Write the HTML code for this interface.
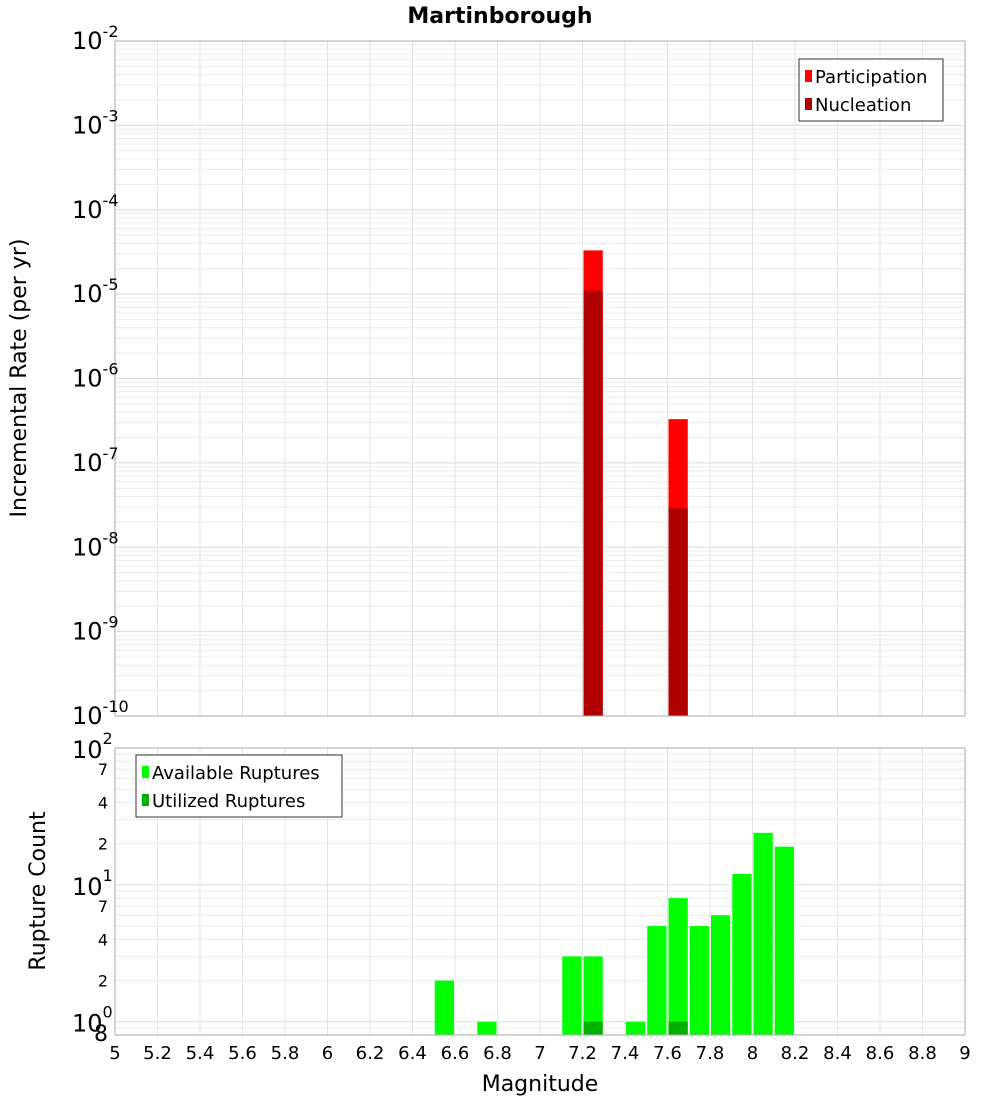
<!DOCTYPE html>
<html><head><meta charset="utf-8"><style>
body{margin:0;background:#fff;}
svg{display:block;font-family:"DejaVu Sans","Liberation Sans",sans-serif;}
</style></head><body>
<svg id="c" width="1000" height="1100" viewBox="0 0 1000 1100"></svg>
<script>
const xTicks=[5,5.2,5.4,5.6,5.8,6,6.2,6.4,6.6,6.8,7,7.2,7.4,7.6,7.8,8,8.2,8.4,8.6,8.8,9];
const rateMags=[7.25,7.65];
const participation=[3.3e-5,3.3e-7];
const nucleation=[1.1e-5,2.9e-8];
const countMags=[6.55,6.75,7.15,7.25,7.45,7.55,7.65,7.75,7.85,7.95,8.05,8.15];
const available=[2,1,3,3,1,5,8,5,6,12,24,19];
const utilMags=[7.25,7.65];
const utilized=[1,1];

const svg=document.getElementById('c');
const NS='http://www.w3.org/2000/svg';
function mk(tag,attrs,parent){const e=document.createElementNS(NS,tag);for(const k in attrs)e.setAttribute(k,attrs[k]);(parent||svg).appendChild(e);return e;}
const X0=115,X1=965;
const x=v=>X0+(v-5)/(9-5)*(X1-X0);
const T0=41,T1=716;
const yTop=v=>T0+(-2-Math.log10(v))/8*(T1-T0);
const B0=748,B1=1035;
const yBot=v=>B0+(2-Math.log10(v))/(2-Math.log10(0.8))*(B1-B0);

// title
let t=mk('text',{x:500,y:23,'text-anchor':'middle','font-size':22,'font-weight':'bold'});
t.textContent='Martinborough';



function grid(y0,y1,yf,decLo,decHi){
  const g=mk('g',{});
  
  
  for(let d=decLo;d<decHi;d++)for(let m=1;m<10;m++){const v=m*Math.pow(10,d);const yy=yf(v);if(yy<y0||yy>y1)continue;
    mk('line',{x1:X0,x2:X1,y1:yy,y2:yy,stroke:m==1?'#dcdcdc':'#ececec','stroke-width':1},g);}
  xTicks.forEach(v=>mk('line',{x1:x(v),x2:x(v),y1:y0,y2:y1,stroke:'#e4e4e4'},g));
}
grid(T0,T1,yTop,-10,-2);
grid(B0,B1,yBot,-1,2);

// top bars
const bw=0.1*(X1-X0)/4-2;
rateMags.forEach((m,i)=>{
  const r=mk('rect',{x:x(m)-bw/2,y:yTop(participation[i]),width:bw,height:T1-yTop(participation[i]),fill:'#ff0000'});
  
  
  const n=mk('rect',{x:x(m)-bw/2,y:yTop(nucleation[i]),width:bw,height:T1-yTop(nucleation[i]),fill:'#b00000'});
  
  
});
countMags.forEach((m,i)=>{
  const r=mk('rect',{x:x(m)-bw/2,y:yBot(available[i]),width:bw,height:B1-yBot(available[i]),fill:'#00ff00'});
  
  
});
utilMags.forEach((m,i)=>{
  const r=mk('rect',{x:x(m)-bw/2,y:yBot(utilized[i]),width:bw,height:B1-yBot(utilized[i]),fill:'#00b000'});
  
  
});

// frames
const f1=mk('rect',{x:X0,y:T0,width:X1-X0,height:T1-T0,fill:'none',stroke:'#aaa'});


const f2=mk('rect',{x:X0,y:B0,width:X1-X0,height:B1-B0,fill:'none',stroke:'#aaa'});



// top y labels
for(let d=-10;d<=-2;d++){
  const yy=yTop(Math.pow(10,d));
  const g=mk('text',{x:72,y:yy+8,'font-size':24});
  
  
  g.innerHTML='10<tspan dy="-12" font-size="16">'+d+'</tspan>';
}
// bottom y labels
[[100,'2'],[10,'1'],[1,'0']].forEach(([v,e])=>{
  const yy=yBot(v);
  const g=mk('text',{x:72,y:yy+10,'font-size':24});
  
  
  g.innerHTML='10<tspan dy="-14" font-size="16">'+e+'</tspan>';
});
[[70,'7'],[40,'4'],[20,'2'],[7,'7'],[4,'4'],[2,'2'],[0.8,'8']].forEach(([v,s])=>{
  const yy=yBot(v);
  const g=mk('text',{x:108,y:yy+6,'font-size':v==0.8?22:16,'text-anchor':'end'});
  
  
  g.textContent=s;
});
// x labels
xTicks.forEach(v=>{
  const g=mk('text',{x:x(v),y:1059,'font-size':18,'text-anchor':'middle'});
  
  
  g.textContent=String(v);
});
let xa=mk('text',{x:540,y:1091,'font-size':22,'text-anchor':'middle'});
xa.textContent='Magnitude';


let ya=mk('text',{x:0,y:0,'font-size':22,'text-anchor':'middle',transform:'translate(26,378) rotate(-90)'});
ya.textContent='Incremental Rate (per yr)';


let yb=mk('text',{x:0,y:0,'font-size':22,'text-anchor':'middle',transform:'translate(45,891) rotate(-90)'});
yb.textContent='Rupture Count';



// legends
function legend(x0,y0,w,items,name){
  const g=mk('g',{});
  
  
  mk('rect',{x:x0,y:y0,width:w,height:items.length*28+6,fill:'#fff',stroke:'#333'},g);
  items.forEach(([c,l],i)=>{
    mk('rect',{x:x0+6,y:y0+11+i*28,width:7,height:12,fill:c},g);
    const tt=mk('text',{x:x0+16,y:y0+24+i*28,'font-size':18},g);
    tt.textContent=l;
  });
}
legend(799,59,144,[['#ff0000','Participation'],['#b00000','Nucleation']],'rate-legend');
legend(136,755,206,[['#00ff00','Available Ruptures'],['#00b000','Utilized Ruptures']],'count-legend');
</script>
</body></html>
